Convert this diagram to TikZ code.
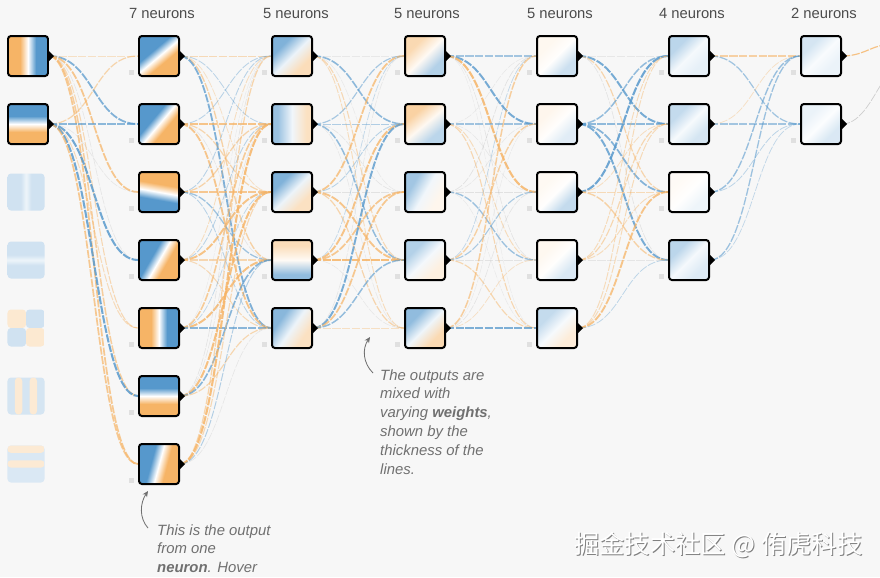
\documentclass[tikz,border=0pt]{standalone}
\usepackage{fontspec}
\setmainfont{Liberation Sans}
\newfontfamily\cjkfont{Noto Sans CJK SC}
\usetikzlibrary{arrows.meta,backgrounds,positioning}

\definecolor{blu}{RGB}{86,152,204}
\definecolor{orng}{RGB}{246,180,102}
\definecolor{paper}{RGB}{247,247,247}
\definecolor{inkgray}{RGB}{112,112,112}
\colorlet{lcol}{blu}
\colorlet{rcol}{orng}

\pgfdeclarehorizontalshading[lcol,rcol]{split}{100bp}{color(0bp)=(lcol); color(32bp)=(lcol); color(50bp)=(white!85!lcol); color(68bp)=(rcol); color(100bp)=(rcol)}
\pgfdeclarehorizontalshading[lcol,rcol]{sharpsplit}{100bp}{color(0bp)=(lcol); color(40bp)=(lcol); color(50bp)=(white); color(60bp)=(rcol); color(100bp)=(rcol)}
\pgfdeclarehorizontalshading[lcol,rcol]{band}{100bp}{color(0bp)=(lcol); color(43bp)=(lcol); color(50bp)=(rcol); color(57bp)=(lcol); color(100bp)=(lcol)}

\pgfdeclarelayer{edges}
\pgfsetlayers{background,edges,main}

\tikzset{
  cols/.style 2 args={/utils/exec={\colorlet{lcol}{#1}\colorlet{rcol}{#2}}},
  neuron/.style={draw=black, line width=1.7pt, rounded corners=2.5pt, minimum size=1.2cm, inner sep=0pt, shade, shading=split},
  feature/.style={minimum size=1.11cm, inner sep=0pt, rounded corners=3pt},
  link/.style={dash pattern=on 7pt off 1.3pt},
  lbl/.style={font=\fontsize{12.6}{15}\selectfont, text=black!70},
  note/.style={font=\fontsize{12.7}{16.1}\selectfont\itshape, text=inkgray, align=left, inner sep=0pt, anchor=north west},
  pointer/.style={draw=inkgray, line width=0.7pt, -{Stealth[length=5pt,width=4.5pt]}},
}

% one weighted link between two neurons
\newcommand{\wire}[2]{%
  \pgfmathsetmacro{\wt}{rand}%
  \pgfmathsetmacro{\wa}{abs(\wt)}%
  \pgfmathsetmacro{\wo}{0.2+0.65*\wa}%
  \pgfmathsetmacro{\wl}{0.3+1.5*\wa}%
  \ifdim\wt pt>0pt \def\wc{blu}\else\def\wc{orng}\fi
  \ifdim\wa pt<0.2pt \def\wc{black!30}\fi
  \draw[link, draw=\wc, draw opacity=\wo, line width=\wl pt] (#1.east) .. controls +(45,0) and +(-45,0) .. (#2.west);%
}

\begin{document}
\begin{tikzpicture}[x=0.03cm, y=-0.03cm]
\begin{pgfonlayer}{background}
\fill[paper] (0,0) rectangle (880,577);
\end{pgfonlayer}
\useasboundingbox (0,0) rectangle (880,577);

% input features
\node[neuron, shading=sharpsplit, cols={orng}{blu}] (x1) at (28,56) {};
\node[neuron, shading=sharpsplit, cols={blu}{orng}, shading angle=-90] (x2) at (28,124) {};
\node[feature, shade, shading=band, cols={blu!28}{blu!10}] (x3) at (26,192) {};
\node[feature, shade, shading=band, cols={blu!28}{blu!10}, shading angle=90] (x4) at (26,260) {};
\node[feature, path picture={
  \fill[orng!30] (path picture bounding box.north west) rectangle (path picture bounding box.center);
  \fill[blu!28] (path picture bounding box.north east) rectangle (path picture bounding box.center);
  \fill[blu!28] (path picture bounding box.south west) rectangle (path picture bounding box.center);
  \fill[orng!30] (path picture bounding box.south east) rectangle (path picture bounding box.center);}] (x5) at (26,328) {};
\node[feature, fill=blu!25, path picture={
  \foreach \k in {1,3}
    \fill[orng!28] ([xshift=\k*6.3pt]path picture bounding box.south west) rectangle ([xshift=\k*6.3pt+6.3pt]path picture bounding box.north west);}] (x6) at (26,396) {};
\node[feature, fill=blu!22, path picture={
  \foreach \k in {0,2}
    \fill[orng!28] ([yshift=-\k*6.3pt]path picture bounding box.north west) rectangle ([yshift=-\k*6.3pt-6.3pt]path picture bounding box.north east);}] (x7) at (26,464) {};

% hidden layers
\foreach \n/\y/\l/\r/\a in {h1/56/blu/orng/-50, h2/124/blu/orng/-40, h3/192/orng/blu/-100, h4/260/blu/orng/-30, h5/328/orng/blu/0, h6/396/blu/orng/-90, h7/464/blu/orng/-15}
  \node[neuron, shading=sharpsplit, cols={\l}{\r}, shading angle=\a] (\n) at (159,\y) {};
\foreach \n/\y/\l/\r/\a in {a1/56/blu!75/orng!45/-45, a2/124/blu!60/orng!40/0, a3/192/blu!75/orng!40/-45, a4/260/orng!45/blu!65/-90, a5/328/blu!70/orng!40/-35}
  \node[neuron, cols={\l}{\r}, shading angle=\a] (\n) at (292,\y) {};
\foreach \n/\y/\l/\r/\a in {b1/56/orng!50/blu!45/-45, b2/124/orng!60/blu!40/-50, b3/192/blu!55/orng!12/-30, b4/260/blu!45/orng!20/-45, b5/328/blu!65/orng!50/-45}
  \node[neuron, cols={\l}{\r}, shading angle=\a] (\n) at (425,\y) {};
\foreach \n/\y/\l/\r/\a in {c1/56/orng!10/blu!30/-45, c2/124/orng!12/blu!18/-45, c3/192/orng!8/blu!35/-45, c4/260/orng!10/blu!22/-45, c5/328/blu!35/orng!25/-45}
  \node[neuron, cols={\l}{\r}, shading angle=\a] (\n) at (557,\y) {};
\foreach \n/\y/\l/\r/\a in {d1/56/blu!40/blu!15/-45, d2/124/blu!35/blu!25/-45, d3/192/orng!6/blu!10/-45, d4/260/blu!40/blu!20/-45}
  \node[neuron, cols={\l}{\r}, shading angle=\a] (\n) at (689,\y) {};
\foreach \n/\y/\l/\r/\a in {e1/56/blu!25/blu!12/-45, e2/124/blu!12/blu!22/-45}
  \node[neuron, cols={\l}{\r}, shading angle=\a] (\n) at (821,\y) {};

% output marks and bias squares
\foreach \n in {x1,x2,h1,h2,h3,h4,h5,h6,h7,a1,a2,a3,a4,a5,b1,b2,b3,b4,b5,c1,c2,c3,c4,c5,d1,d2,d3,d4,e1,e2}
  \fill (\n.east) ++(0,-5) -- ++(5,5) -- ++(-5,5) -- cycle;
\foreach \n in {h1,h2,h3,h4,h5,h6,h7,a1,a2,a3,a4,a5,b1,b2,b3,b4,b5,c1,c2,c3,c4,c5,d1,d2,d3,d4,e1,e2}
  \fill[black!12] (\n.south west) ++(-9.5,-7.5) rectangle ++(5,5);

% layer titles
\node[lbl] (t1) at (162,13) {7 neurons};
\node[lbl] (t2) at (296,13) {5 neurons};
\node[lbl] (t3) at (427,13) {5 neurons};
\node[lbl] (t4) at (560,13) {5 neurons};
\node[lbl] (t5) at (692,13) {4 neurons};
\node[lbl] (t6) at (824,13) {2 neurons};

% weights
\pgfmathsetseed{4}
\begin{pgfonlayer}{edges}
\foreach \s in {x1,x2} \foreach \j in {1,...,7} {\wire{\s}{h\j}}
\foreach \i in {1,...,7} \foreach \j in {1,...,5} {\wire{h\i}{a\j}}
\foreach \i in {1,...,5} \foreach \j in {1,...,5} {\wire{a\i}{b\j}}
\foreach \i in {1,...,5} \foreach \j in {1,...,5} {\wire{b\i}{c\j}}
\foreach \i in {1,...,5} \foreach \j in {1,...,4} {\wire{c\i}{d\j}}
\foreach \i in {1,...,4} \foreach \j in {1,2} {\wire{d\i}{e\j}}
\coordinate (o1) at (884,45);
\coordinate (o2) at (884,80);
\draw[link, draw=orng, draw opacity=0.8, line width=1pt] (e1.east) .. controls +(20,0) and +(-14,2) .. (o1);
\draw[link, draw=black!30, draw opacity=0.6, line width=0.6pt] (e2.east) .. controls +(20,0) and +(-10,14) .. (o2);
\end{pgfonlayer}

% notes
\node[note] (n1) at (157,524) {This is the output\\from one\\\textbf{neuron}. Hover};
\node[note] (n2) at (380,369) {The outputs are\\mixed with\\varying \textbf{weights},\\shown by the\\thickness of the\\lines.};
\coordinate (p2) at (370,337);
\draw[pointer] ([shift={(-9,4)}]n1.north west) .. controls +(-9,-10) and +(-8,12) .. ([shift={(-11,6)}]h7.south);
\draw[pointer] ([shift={(-7,4)}]n2.north west) .. controls +(-10,-10) and +(-8,12) .. (p2);

% watermark
\node[anchor=west, font=\cjkfont\fontsize{21.6}{22}\selectfont, text=black!50] (wms) at (571,546) {掘金技术社区 @ 侑虎科技};
\node[anchor=west, font=\cjkfont\fontsize{21.6}{22}\selectfont, text=white] (wm) at (570,545) {掘金技术社区 @ 侑虎科技};
\end{tikzpicture}
\end{document}
